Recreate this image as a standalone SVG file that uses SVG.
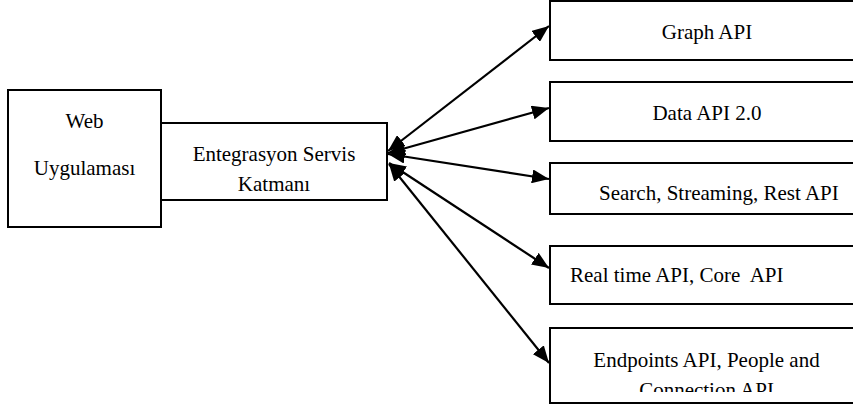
<svg xmlns="http://www.w3.org/2000/svg" width="853" height="410" viewBox="0 0 853 410">
<style>
.box{fill:#fff;stroke:#000;stroke-width:2}
.t{font-family:'Liberation Serif','Times New Roman','DejaVu Serif',serif;font-size:21px;fill:#000}
.c{text-anchor:middle}
.conn line{stroke:#000;stroke-width:2.2;marker-start:url(#ah);marker-end:url(#ah)}
</style>
<defs>
<marker id="ah" markerUnits="userSpaceOnUse" markerWidth="18" markerHeight="14" refX="17" refY="7" orient="auto-start-reverse" viewBox="0 0 18 14">
<path d="M0,0 L17,7 L0,14 Z" fill="#000"/>
</marker>
<clipPath id="clipK"><rect x="161" y="123" width="226" height="68.5"/></clipPath>
<clipPath id="clipE"><rect x="550" y="328" width="303" height="64"/></clipPath>
</defs>
<g id="web">
<rect class="box" x="8" y="90" width="153" height="137"/>
<text class="t c" font-family="Liberation Serif, serif" x="84.5" y="128">Web</text>
<text class="t c" font-family="Liberation Serif, serif" x="84.5" y="175">Uygulaması</text>
</g>
<g id="entegrasyon">
<rect class="box" x="161" y="123" width="226" height="77"/>
<g clip-path="url(#clipK)">
<text class="t c" font-family="Liberation Serif, serif" x="274" y="161">Entegrasyon Servis</text>
<text class="t c" font-family="Liberation Serif, serif" x="274" y="191">Katmanı</text>
</g>
</g>
<g id="graph">
<rect class="box" x="550" y="1" width="320" height="59"/>
<text class="t c" font-family="Liberation Serif, serif" x="707" y="39">Graph API</text>
</g>
<g id="data">
<rect class="box" x="550" y="82" width="320" height="59"/>
<text class="t c" font-family="Liberation Serif, serif" x="707" y="120">Data API 2.0</text>
</g>
<g id="search">
<rect class="box" x="550" y="163" width="320" height="51"/>
<text class="t" font-family="Liberation Serif, serif" x="599" y="200">Search, Streaming, Rest API</text>
</g>
<g id="realtime">
<rect class="box" x="550" y="246" width="320" height="58"/>
<text class="t" font-family="Liberation Serif, serif" x="570" y="282" xml:space="preserve">Real time API, Core  API</text>
</g>
<g id="endpoints">
<rect class="box" x="550" y="328" width="320" height="75"/>
<g clip-path="url(#clipE)">
<text class="t c" font-family="Liberation Serif, serif" x="706.5" y="367">Endpoints API, People and</text>
<text class="t c" font-family="Liberation Serif, serif" x="706.5" y="397">Connection API</text>
</g>
</g>
<g id="connectors" class="conn">
<line x1="388" y1="151" x2="549" y2="26"/>
<line x1="388" y1="153" x2="549" y2="108"/>
<line x1="388" y1="154" x2="549" y2="179"/>
<line x1="389" y1="163" x2="549" y2="268"/>
<line x1="389" y1="164" x2="549" y2="363"/>
</g>
</svg>
